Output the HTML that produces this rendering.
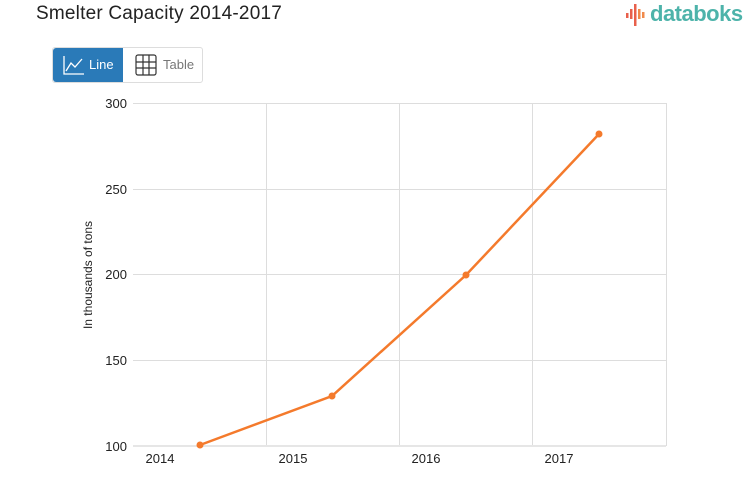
<!DOCTYPE html>
<html><head><meta charset="utf-8"><style>
body{margin:0;width:753px;height:498px;background:#fff;font-family:"Liberation Sans",sans-serif;overflow:hidden;position:relative}
.t{position:absolute;left:36px;top:3px;font-size:19px;color:#222;letter-spacing:0.2px}
.logo{position:absolute;left:650px;top:1px;font-size:22px;color:#4db3aa;font-weight:bold;letter-spacing:-0.5px}
.btns{position:absolute;left:52px;top:47px;width:149px;height:34px;border:1px solid #ddd;border-radius:3px}
.b1{position:absolute;left:0;top:0;width:70px;height:34px;background:#2a7ab8;border-radius:3px 0 0 3px;color:#fff;font-size:13px}
.b2{position:absolute;left:80px;top:0;height:34px;color:#777;font-size:13px}
</style></head><body>
<div class="t">Smelter Capacity 2014-2017</div>
<svg style="position:absolute;left:625px;top:4px" width="24" height="24">
<rect x="1" y="9" width="2.5" height="5" fill="#e8604c"/><rect x="5" y="5" width="2.5" height="10" fill="#e8604c"/><rect x="9" y="0" width="2.5" height="22" fill="#e8604c"/><rect x="13" y="5" width="2.5" height="10" fill="#f08a4b"/><rect x="17" y="8" width="2.5" height="6" fill="#f08a4b"/>
</svg>
<div class="logo">databoks</div>
<div class="btns">
<div class="b1"><svg style="position:absolute;left:10px;top:7px" width="22" height="20"><path d="M1 1V19H21" stroke="#fff" fill="none" stroke-width="1.3"/><path d="M3 16L8 8L12 12L19 4" stroke="#fff" fill="none" stroke-width="1.3"/></svg><span style="position:absolute;left:36px;top:9px">Line</span></div>
<div class="b2"><svg style="position:absolute;left:2px;top:6px" width="22" height="22"><g stroke="#333" fill="none" stroke-width="1.2"><rect x="1" y="1" width="20" height="20" rx="2"/><path d="M1 8H21M1 14H21M8 1V21M14 1V21"/></g></svg><span style="position:absolute;left:30px;top:9px">Table</span></div>
</div>
<svg style="position:absolute;left:0;top:0" width="753" height="498" font-family="Liberation Sans, sans-serif">
<g stroke="#ddd" stroke-width="1">
<line x1="133" y1="103.5" x2="666" y2="103.5"/><line x1="133" y1="189.5" x2="666" y2="189.5"/><line x1="133" y1="274.5" x2="666" y2="274.5"/><line x1="133" y1="360.5" x2="666" y2="360.5"/>
<line x1="266.5" y1="103" x2="266.5" y2="446"/><line x1="399.5" y1="103" x2="399.5" y2="446"/><line x1="532.5" y1="103" x2="532.5" y2="446"/><line x1="666.5" y1="103" x2="666.5" y2="446"/>
</g>
<line x1="133" y1="446" x2="666" y2="446" stroke="#e6e6e6" stroke-width="2"/>
<g font-size="13" fill="#222" text-anchor="end">
<text x="127" y="108">300</text><text x="127" y="194">250</text><text x="127" y="279">200</text><text x="127" y="365">150</text><text x="127" y="451">100</text>
</g>
<g font-size="13" fill="#222" text-anchor="middle">
<text x="160" y="463">2014</text><text x="293" y="463">2015</text><text x="426" y="463">2016</text><text x="559" y="463">2017</text>
</g>
<text transform="translate(92,275) rotate(-90)" font-size="12" fill="#222" text-anchor="middle">In thousands of tons</text>
<polyline points="200,445 332,396 466,275 599,134" fill="none" stroke="#f47a2c" stroke-width="2.5"/>
<g fill="#f47a2c"><circle cx="200" cy="445" r="3.5"/><circle cx="332" cy="396" r="3.5"/><circle cx="466" cy="275" r="3.5"/><circle cx="599" cy="134" r="3.5"/></g>
</svg>
</body></html>
